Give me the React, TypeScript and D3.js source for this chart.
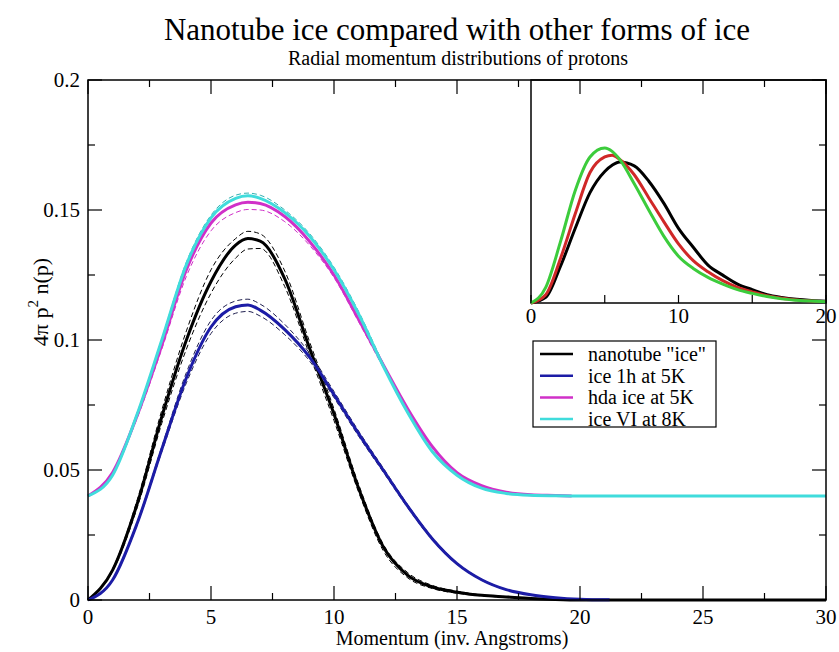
import React from 'react';
import * as d3 from 'd3';

// momentum grid (inv. Angstroms), with an extra point at the peak
const momentum = [0, 1, 2, 3, 4, 5, 6, 6.5, 7, 8, 9, 10, 11, 12, 13, 14, 15, 16, 17, 18, 19, 20];

// main panel, solid curves
const nanotubeP = [...momentum, 30];
const nanotube = [0, 0.0115, 0.037, 0.0705, 0.1, 0.1225, 0.1365, 0.139, 0.138, 0.1235, 0.097, 0.0715, 0.043, 0.0205, 0.0095, 0.005, 0.003, 0.0018, 0.0012, 0.0006, 0.0002, 0, 0];
const ice1hP = [...momentum, 21, 21.2];
const ice1h = [0, 0.0077, 0.0295, 0.058, 0.0855, 0.105, 0.1128, 0.1135, 0.1115, 0.104, 0.0935, 0.079, 0.064, 0.05, 0.036, 0.0235, 0.014, 0.0078, 0.004, 0.002, 0.0009, 0.0003, 0.0001, 0.0001];
const hdaP = [...momentum.slice(0, 21), 19.66];
const hda = [0.04, 0.049, 0.071, 0.098, 0.127, 0.145, 0.152, 0.153, 0.1525, 0.1475, 0.138, 0.125, 0.108, 0.0905, 0.0735, 0.059, 0.049, 0.044, 0.0415, 0.0405, 0.0402, 0.04];
const iceVIP = [...momentum, 30];
const iceVI = [0.04, 0.048, 0.0715, 0.1, 0.129, 0.147, 0.1545, 0.1555, 0.1545, 0.149, 0.14, 0.127, 0.11, 0.09, 0.072, 0.057, 0.048, 0.043, 0.041, 0.0403, 0.0401, 0.04, 0.04];

// main panel, dashed error curves (on the momentum grid)
const nanotubeUpper = [0, 0.012, 0.0385, 0.073, 0.1035, 0.127, 0.139, 0.1418, 0.1408, 0.1265, 0.0995, 0.0735, 0.0445, 0.0215, 0.0105, 0.0056, 0.0034, 0.002, 0.0013, 0.0007, 0.0003, 0];
const nanotubeLower = [0, 0.011, 0.0355, 0.068, 0.0965, 0.118, 0.1315, 0.135, 0.1352, 0.1205, 0.0945, 0.069, 0.0415, 0.019, 0.0085, 0.0044, 0.0026, 0.0016, 0.001, 0.0005, 0.0002, 0];
const ice1hUpper = [0, 0.0079, 0.03, 0.059, 0.0875, 0.1075, 0.115, 0.1157, 0.1138, 0.106, 0.095, 0.0802, 0.065, 0.0508, 0.0366, 0.024, 0.0143, 0.008, 0.0041, 0.0021, 0.0009, 0.0003];
const ice1hLower = [0, 0.0075, 0.029, 0.057, 0.0835, 0.1025, 0.1103, 0.111, 0.1092, 0.102, 0.092, 0.0778, 0.063, 0.0492, 0.0354, 0.023, 0.0137, 0.0076, 0.0039, 0.0019, 0.0008, 0.0002];
const hdaLower = [0.04, 0.0485, 0.07, 0.0965, 0.1245, 0.142, 0.149, 0.1502, 0.15, 0.1455, 0.1365, 0.124, 0.107, 0.0895, 0.073, 0.0585, 0.0487, 0.0438, 0.0414, 0.0404, 0.0401];
const iceVIUpper = [0.04, 0.0485, 0.072, 0.1005, 0.13, 0.148, 0.1557, 0.1565, 0.1557, 0.15, 0.141, 0.128, 0.111, 0.091, 0.0728, 0.0576, 0.0483, 0.0432, 0.0411, 0.0404, 0.0401, 0.04];

// inset curves
const insetP = [0, 1, 2, 3, 4, 5, 5.5, 6, 7, 8, 9, 10, 11, 12, 13, 14, 15, 16, 17, 18, 19, 20];
const insetBlack = [0, 0.005, 0.033, 0.067, 0.099, 0.118, 0.1235, 0.1265, 0.123, 0.109, 0.0896, 0.067, 0.05, 0.034, 0.025, 0.017, 0.012, 0.0075, 0.005, 0.0033, 0.0022, 0.0015];
const insetRed = [0, 0.0075, 0.04, 0.08, 0.117, 0.131, 0.1326, 0.129, 0.115, 0.094, 0.073, 0.053, 0.038, 0.028, 0.02, 0.014, 0.01, 0.0065, 0.0042, 0.0028, 0.0019, 0.0013];
const insetGreen = [0, 0.014, 0.055, 0.101, 0.131, 0.139, 0.136, 0.129, 0.107, 0.083, 0.06, 0.042, 0.031, 0.023, 0.017, 0.012, 0.0086, 0.0058, 0.0037, 0.0025, 0.0017, 0.0012];

const xTicks = [0, 5, 10, 15, 20, 25, 30];
const xMinor = [2.5, 7.5, 12.5, 17.5, 22.5, 27.5];
const yTicks = [0, 0.05, 0.1, 0.15, 0.2];
const yMinor = [0.025, 0.075, 0.125, 0.175];
const yTickLabels = ['0', '0.05', '0.1', '0.15', '0.2'];
const insetXTicks = [0, 10, 20];
const insetXMinor = [5, 15];

const legendLabels = ['nanotube "ice"', 'ice 1h at 5K', 'hda ice at 5K', 'ice VI at 8K'];
const BLACK = '#000000';
const BLUE = '#1c1ca6';
const MAGENTA = '#d030c8';
const CYAN = '#40dcdc';
const legendColors = [BLACK, BLUE, MAGENTA, CYAN];

const FONT = '"Liberation Serif", "Times New Roman", serif';

const W = 839;
const H = 652;
const M = { left: 88, right: 826, top: 80, bottom: 600 };
const INSET = { left: 531, right: 826, top: 80, bottom: 303 };

export default function App() {
  const x = d3.scaleLinear().domain([0, 30]).range([M.left, M.right]);
  const y = d3.scaleLinear().domain([0, 0.2]).range([M.bottom, M.top]);
  const ix = d3.scaleLinear().domain([0, 20]).range([INSET.left, INSET.right]);
  const iy = d3.scaleLinear().domain([0, 0.2]).range([INSET.bottom, INSET.top]);

  const mainLine = (ps: number[], vs: number[]) =>
    d3.line<number>()
      .x((_, i) => x(ps[i]))
      .y(v => y(v))
      .curve(d3.curveMonotoneX)(vs) || '';
  const insetLine = (vs: number[]) =>
    d3.line<number>()
      .x((_, i) => ix(insetP[i]))
      .y(v => iy(v))
      .curve(d3.curveMonotoneX)(vs) || '';

  const dashed = [
    { vs: nanotubeUpper, ps: momentum, c: BLACK },
    { vs: nanotubeLower, ps: momentum, c: BLACK },
    { vs: ice1hUpper, ps: momentum, c: '#202050' },
    { vs: ice1hLower, ps: momentum, c: '#202050' },
    { vs: hdaLower, ps: momentum, c: MAGENTA },
    { vs: iceVIUpper, ps: momentum, c: '#30b0b0' },
  ];
  const solid = [
    { vs: nanotube, ps: nanotubeP, c: BLACK },
    { vs: ice1h, ps: ice1hP, c: BLUE },
    { vs: hda, ps: hdaP, c: MAGENTA },
    { vs: iceVI, ps: iceVIP, c: CYAN },
  ];
  const insetSeries = [
    { vs: insetBlack, c: '#000000' },
    { vs: insetRed, c: '#d02828' },
    { vs: insetGreen, c: '#3ccc3c' },
  ];

  const major = 14;
  const minor = 7;

  return (
    <svg width={W} height={H} style={{ position: 'absolute', left: 0, top: 0, background: '#fff' }} fontFamily={FONT}>
      <rect width={W} height={H} fill="#fff" />
      <text x={457} y={40} textAnchor="middle" fontSize={31}>Nanotube ice compared with other forms of ice</text>
      <text x={458} y={65} textAnchor="middle" fontSize={20}>Radial momentum distributions of protons</text>

      {/* curves */}
      {dashed.map((d, i) => (
        <path key={'d' + i} d={mainLine(d.ps.slice(0, d.vs.length), d.vs)} fill="none" stroke={d.c} strokeWidth={1} strokeDasharray="5,3" />
      ))}
      {solid.map((d, i) => (
        <path key={'s' + i} d={mainLine(d.ps, d.vs)} fill="none" stroke={d.c} strokeWidth={3} strokeLinejoin="round" />
      ))}

      {/* inset */}
      <rect x={INSET.left} y={INSET.top} width={INSET.right - INSET.left} height={INSET.bottom - INSET.top} fill="#fff" stroke="#000" strokeWidth={1.5} />
      {insetSeries.map((d, i) => (
        <path key={'i' + i} d={insetLine(d.vs)} fill="none" stroke={d.c} strokeWidth={3} strokeLinejoin="round" />
      ))}
      {[...insetXTicks, ...insetXMinor].map(t => (
        <line key={'it' + t} x1={ix(t)} x2={ix(t)} y1={INSET.bottom} y2={INSET.bottom - 8} stroke="#000" strokeWidth={1.2} />
      ))}
      {insetXTicks.map(t => (
        <text key={'il' + t} x={ix(t)} y={INSET.bottom + 20} textAnchor="middle" fontSize={21}>{t}</text>
      ))}

      {/* main frame */}
      <rect x={M.left} y={M.top} width={M.right - M.left} height={M.bottom - M.top} fill="none" stroke="#000" strokeWidth={1.5} />
      {xTicks.map(t => (
        <g key={'xt' + t}>
          <line x1={x(t)} x2={x(t)} y1={M.bottom} y2={M.bottom - major} stroke="#000" strokeWidth={1.2} />
          <line x1={x(t)} x2={x(t)} y1={M.top} y2={M.top + major} stroke="#000" strokeWidth={1.2} />
          <text x={x(t)} y={M.bottom + 24} textAnchor="middle" fontSize={21}>{t}</text>
        </g>
      ))}
      {xMinor.map(t => (
        <g key={'xm' + t}>
          <line x1={x(t)} x2={x(t)} y1={M.bottom} y2={M.bottom - minor} stroke="#000" strokeWidth={1.2} />
          <line x1={x(t)} x2={x(t)} y1={M.top} y2={M.top + minor} stroke="#000" strokeWidth={1.2} />
        </g>
      ))}
      {yTicks.map((t, i) => (
        <g key={'yt' + t}>
          <line x1={M.left} x2={M.left + major} y1={y(t)} y2={y(t)} stroke="#000" strokeWidth={1.2} />
          <line x1={M.right} x2={M.right - major} y1={y(t)} y2={y(t)} stroke="#000" strokeWidth={1.2} />
          <text x={M.left - 8} y={y(t) + 7} textAnchor="end" fontSize={21}>{yTickLabels[i]}</text>
        </g>
      ))}
      {yMinor.map(t => (
        <g key={'ym' + t}>
          <line x1={M.left} x2={M.left + minor} y1={y(t)} y2={y(t)} stroke="#000" strokeWidth={1.2} />
          <line x1={M.right} x2={M.right - minor} y1={y(t)} y2={y(t)} stroke="#000" strokeWidth={1.2} />
        </g>
      ))}

      <text x={452} y={645} textAnchor="middle" fontSize={20}>Momentum (inv. Angstroms)</text>
      <text transform="translate(48,302) rotate(-90)" textAnchor="middle" fontSize={22}>
        4π p<tspan dy={-10} fontSize={15}>2</tspan><tspan dy={10}> n(p)</tspan>
      </text>

      {/* legend */}
      <rect x={533} y={341} width={183} height={86} fill="#fff" stroke="#000" strokeWidth={1.2} />
      {legendLabels.map((l, i) => (
        <g key={'lg' + i}>
          <line x1={540} x2={573} y1={354 + i * 21.7} y2={354 + i * 21.7} stroke={legendColors[i]} strokeWidth={2.5} />
          <text x={588} y={361 + i * 21.7} fontSize={20}>{l}</text>
        </g>
      ))}
    </svg>
  );
}
